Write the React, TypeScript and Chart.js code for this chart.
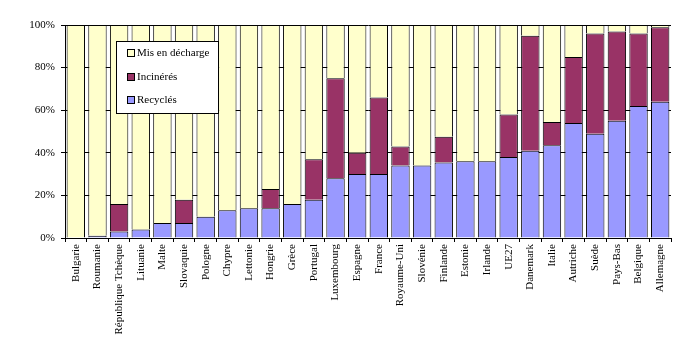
import React, { useEffect, useRef } from "react";
import { Chart, registerables } from "chart.js";

Chart.register(...registerables);

const categories = [
  "Bulgarie", "Roumanie", "République Tchèque", "Lituanie", "Malte", "Slovaquie", "Pologne",
  "Chypre", "Lettonie", "Hongrie", "Grèce", "Portugal", "Luxembourg", "Espagne", "France",
  "Royaume-Uni", "Slovénie", "Finlande", "Estonie", "Irlande", "UE27", "Danemark", "Italie",
  "Autriche", "Suède", "Pays-Bas", "Belgique", "Allemagne",
];

const recycles = [0, 1, 3, 4, 7, 7, 10, 13, 14, 14, 16, 18, 28, 30, 30, 34, 34, 35.5, 36, 36, 38, 41, 43.5, 54, 49, 55, 62, 64];
const incineres = [0, 0, 13, 0, 0, 11, 0, 0, 0, 9, 0, 19, 47, 10, 36, 9, 0, 12, 0, 0, 20, 54, 11, 31, 47, 42, 34, 35];
const misEnDecharge = [100, 99, 84, 96, 93, 82, 90, 87, 86, 77, 84, 63, 25, 60, 34, 57, 66, 52.5, 64, 64, 42, 5, 45.5, 15, 4, 3, 4, 1];

const yTicks = [0, 20, 40, 60, 80, 100];

const FONT = "'Liberation Serif', 'Times New Roman', serif";

const legendPlugin = {
  id: "boxLegend",
  afterDraw(chart: any) {
    const ctx = chart.ctx;
    const x = 116, y = 41, w = 102, h = 72;
    ctx.save();
    ctx.fillStyle = "#ffffff";
    ctx.fillRect(x, y, w, h);
    ctx.strokeStyle = "#000000";
    ctx.lineWidth = 1;
    ctx.strokeRect(x + 0.5, y + 0.5, w, h);
    const ds = chart.data.datasets.slice().reverse();
    const rows = [53, 77, 100];
    ctx.font = `11px ${FONT}`;
    ctx.textBaseline = "middle";
    ctx.textAlign = "left";
    ds.forEach((d: any, i: number) => {
      const cy = rows[i];
      ctx.fillStyle = d.backgroundColor;
      ctx.fillRect(128, cy - 3, 6, 6);
      ctx.strokeStyle = "#000";
      ctx.strokeRect(127.5, cy - 3.5, 7, 7);
      ctx.fillStyle = "#000";
      ctx.fillText(d.label, 137, cy + 0.5);
    });
    ctx.restore();
  },
};

const nz = (a: number[]) => a.map((v) => (v === 0 ? null : v));

export default function App() {
  const ref = useRef<HTMLCanvasElement>(null);
  useEffect(() => {
    if (!ref.current) return;
    const common = {
      borderColor: "#000000",
      borderWidth: 1,
      barPercentage: 1,
      categoryPercentage: 0.85,
    };
    const chart = new Chart(ref.current, {
      type: "bar",
      data: {
        labels: categories,
        datasets: [
          { label: "Recyclés", data: nz(recycles), backgroundColor: "#9999FF", ...common },
          { label: "Incinérés", data: nz(incineres), backgroundColor: "#993366", ...common },
          { label: "Mis en décharge", data: nz(misEnDecharge), backgroundColor: "#FFFFCC", ...common },
        ],
      } as any,
      options: {
        animation: false,
        responsive: false,
        maintainAspectRatio: false,
        layout: { padding: { top: 25, right: 21, bottom: 0, left: 0 } },
        plugins: { legend: { display: false }, tooltip: { enabled: false } },
        scales: {
          x: {
            stacked: true,
            grid: { drawOnChartArea: false, drawTicks: true, tickLength: 4, color: "#000", offset: true },
            border: { color: "#000", width: 1 },
            ticks: {
              autoSkip: false,
              maxRotation: 90,
              minRotation: 90,
              padding: 2,
              color: "#000",
              font: { family: FONT, size: 11 },
            },
            afterFit(scale: any) {
              scale.height = 116;
            },
          },
          y: {
            stacked: true,
            min: 0,
            max: 100,
            afterBuildTicks(scale: any) {
              scale.ticks = yTicks.map((v) => ({ value: v }));
            },
            grid: { color: "#000", tickLength: 4, lineWidth: 1 },
            border: { color: "#000", width: 1 },
            ticks: {
              padding: 6,
              color: "#000",
              font: { family: FONT, size: 11 },
              callback: (v: any) => `${v}%`,
            },
            afterFit(scale: any) {
              scale.width = 65;
            },
          },
        },
      } as any,
      plugins: [legendPlugin],
    });
    return () => chart.destroy();
  }, []);
  return (
    <div style={{ position: "fixed", left: 0, top: 0, width: 692, height: 354, background: "#fff" }}>
      <canvas ref={ref} width={692} height={354} style={{ width: 692, height: 354 }} />
    </div>
  );
}
